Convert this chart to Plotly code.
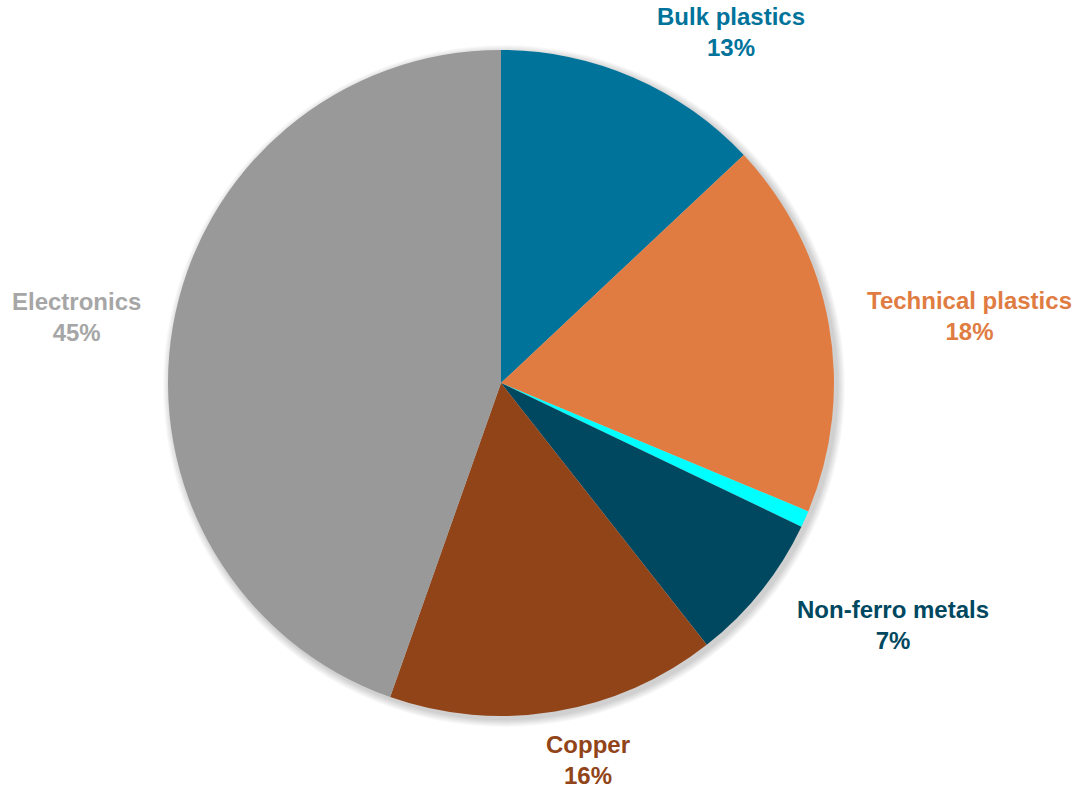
import plotly.graph_objects as go

# Share of material fractions
categories = ["Bulk plastics", "Technical plastics", "Other", "Non-ferro metals", "Copper", "Electronics"]
values = [13.0, 18.3, 0.8, 7.3, 16.0, 44.6]
colors = ["#00739b", "#e07c42", "#00ffff", "#004860", "#914418", "#999999"]
label_colors = ["#00739b", "#e07c42", "#00ffff", "#004860", "#914418", "#a6a6a6"]
show_label = [True, True, False, True, True, True]
# label anchor points (paper coordinates)
label_x = [0.673, 0.893, None, 0.822, 0.5414, 0.0709]
label_y = [0.9594, 0.5995, None, 0.2079, 0.0368, 0.5982]

W, H = 1086, 789
cx, cy, r = 501, 383, 333

fig = go.Figure(go.Pie(
    labels=categories,
    values=values,
    sort=False,
    direction="clockwise",
    rotation=0,
    marker=dict(colors=colors, line=dict(width=0)),
    textinfo="none",
    hoverinfo="label+percent",
    showlegend=False,
    domain=dict(x=[(cx - r) / W, (cx + r) / W], y=[(H - cy - r) / H, (H - cy + r) / H]),
))

total = sum(values)
annotations = []
for name, v, c, s, x, y in zip(categories, values, label_colors, show_label, label_x, label_y):
    if not s:
        continue
    annotations.append(dict(
        x=x, y=y, xref="paper", yref="paper", showarrow=False,
        text=f"<b>{name}<br>{round(v / total * 100):.0f}%</b>",
        font=dict(family="Liberation Sans, Arial", size=24, color=c),
        align="center", xanchor="center", yanchor="middle",
    ))

# soft drop shadow behind the pie
shapes = []
for k in range(8):
    rr = r + 1 + k
    shapes.append(dict(
        type="circle", xref="paper", yref="paper", layer="below",
        xsizemode="pixel", ysizemode="pixel",
        xanchor=(cx + 3) / W, yanchor=(H - cy - 3) / H,
        x0=-rr, x1=rr, y0=-rr, y1=rr,
        fillcolor="rgba(0,0,0,0.025)", line=dict(width=0),
    ))

fig.update_layout(
    width=W, height=H,
    margin=dict(l=0, r=0, t=0, b=0),
    paper_bgcolor="white", plot_bgcolor="white",
    annotations=annotations,
    shapes=shapes,
)

fig.write_html("out.html")
